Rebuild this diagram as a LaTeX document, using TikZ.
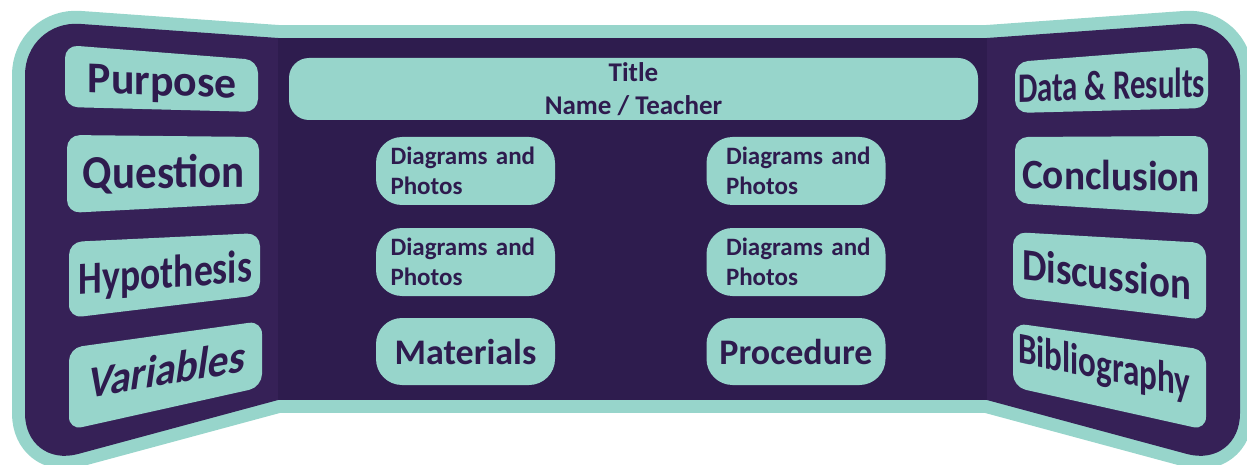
\documentclass[tikz,border=0pt]{standalone}
\usepackage{fontspec}
\usepackage{graphicx}
\newfontfamily\carl{Carlito}
\definecolor{tealc}{RGB}{151,213,203}
\definecolor{sidep}{RGB}{54,33,87}
\definecolor{cenp}{RGB}{46,28,78}
\definecolor{txtp}{RGB}{46,27,78}
\begin{document}
\begin{tikzpicture}[x=1pt,y=-1pt,
  board/.style={draw=tealc, line width=26pt, line join=round, rounded corners=55pt},
  sbox/.style={fill=tealc, rounded corners=13pt},
  stxt/.style={text=txtp, inner sep=0pt, anchor=base},
  cbox/.style={fill=tealc, rounded corners=26pt, inner sep=0pt, text=txtp, font=\carl\bfseries}]
\useasboundingbox (0,0) rectangle (1247,465);
% teal borders
\path[board] (420,48.1) -- (25,20) -- (25,468.3) -- (420,361.7) -- cycle;
\path[board] (845,48.1) -- (1240,20) -- (1240,468.3) -- (845,361.7) -- cycle;
\path[draw=tealc, line width=26pt] (278,38) rectangle (987,400);
% purple fills
\fill[sidep, rounded corners=55pt] (420,48.1) -- (25,20) -- (25,468.3) -- (420,361.7) -- cycle;
\fill[sidep, rounded corners=55pt] (845,48.1) -- (1240,20) -- (1240,468.3) -- (845,361.7) -- cycle;
\fill[cenp] (278,38) rectangle (987,400);
% left boxes
\fill[sbox] (65,45) -- (258,60) -- (258,112) -- (65,107) -- cycle;
\fill[sbox] (67,135) -- (259,137) -- (259,203) -- (67,213) -- cycle;
\fill[sbox] (69,242) -- (260,233) -- (260,295) -- (69,318) -- cycle;
\fill[sbox] (69,348) -- (262,321) -- (262,387) -- (69,430) -- cycle;
% right boxes
\fill[sbox] (1015,62) -- (1208,47) -- (1208,108) -- (1015,113) -- cycle;
\fill[sbox] (1015,137) -- (1208,136) -- (1208,215) -- (1015,203) -- cycle;
\fill[sbox] (1013,232) -- (1206,243) -- (1206,320) -- (1013,297) -- cycle;
\fill[sbox] (1013,323) -- (1206,350) -- (1206,430) -- (1013,387) -- cycle;
% left texts
\node[stxt, shift={(162.5,95.5)}, yslant=-0.04, font=\carl\bfseries\fontsize{44}{48}\selectfont] (purpose) at (0,0) {\resizebox{149pt}{\height}{Purpose}};
\node[stxt, shift={(164,188)}, yslant=0.01, font=\carl\bfseries\fontsize{47}{50}\selectfont] (question) at (0,0) {\resizebox{162pt}{\height}{Question}};
\node[stxt, shift={(165.5,288)}, yslant=0.07, font=\carl\bfseries\fontsize{46}{50}\selectfont] (hypothesis) at (0,0) {\resizebox{173pt}{\height}{Hypothesis}};
\node[stxt, shift={(165.5,385)}, yslant=0.166, xslant=0.15, font=\carl\bfseries\fontsize{45}{50}\selectfont] (variables) at (0,0) {\resizebox{157pt}{\height}{Variables}};
% right texts
\node[stxt, shift={(1111.5,99.5)}, yslant=0.027, font=\carl\bfseries\fontsize{42}{46}\selectfont] (data) at (0,0) {\resizebox{187pt}{\height}{Data \& Results}};
\node[stxt, shift={(1111,190)}, yslant=-0.02, font=\carl\bfseries\fontsize{42}{46}\selectfont] (conclusion) at (0,0) {\resizebox{178pt}{\height}{Conclusion}};
\node[stxt, shift={(1106.5,290)}, yslant=-0.12, font=\carl\bfseries\fontsize{45}{50}\selectfont] (discussion) at (0,0) {\resizebox{169pt}{\height}{Discussion}};
\node[stxt, shift={(1104,380)}, yslant=-0.2, font=\carl\bfseries\fontsize{44}{50}\selectfont] (bibliography) at (0,0) {\resizebox{172pt}{\height}{Bibliography}};
% center boxes
\node[cbox, rounded corners=20pt, minimum width=689pt, minimum height=62pt, align=center,
  font=\carl\bfseries\fontsize{27}{33}\selectfont] (title) at (633.5,89) {Title\\Name / Teacher};
\tikzset{dbox/.style={cbox, minimum width=179pt, minimum height=68pt, text width=150pt, align=left,
  font=\carl\bfseries\fontsize{25}{30}\selectfont}}
\node[dbox] (d1) at (465.5,171) {Diagrams and\\Photos};
\node[dbox] (d2) at (465.5,262) {Diagrams and\\Photos};
\node[dbox] (d3) at (796,171) {\hspace*{5pt}Diagrams and\\\hspace*{5pt}Photos};
\node[dbox] (d4) at (796,262) {\hspace*{5pt}Diagrams and\\\hspace*{5pt}Photos};
\tikzset{mbox/.style={cbox, minimum width=179pt, minimum height=67pt, font=\carl\bfseries\fontsize{36}{40}\selectfont}}
\node[mbox] (materials) at (465.5,351.5) {Materials};
\node[mbox] (procedure) at (796,351.5) {Procedure};
\end{tikzpicture}
\end{document}
